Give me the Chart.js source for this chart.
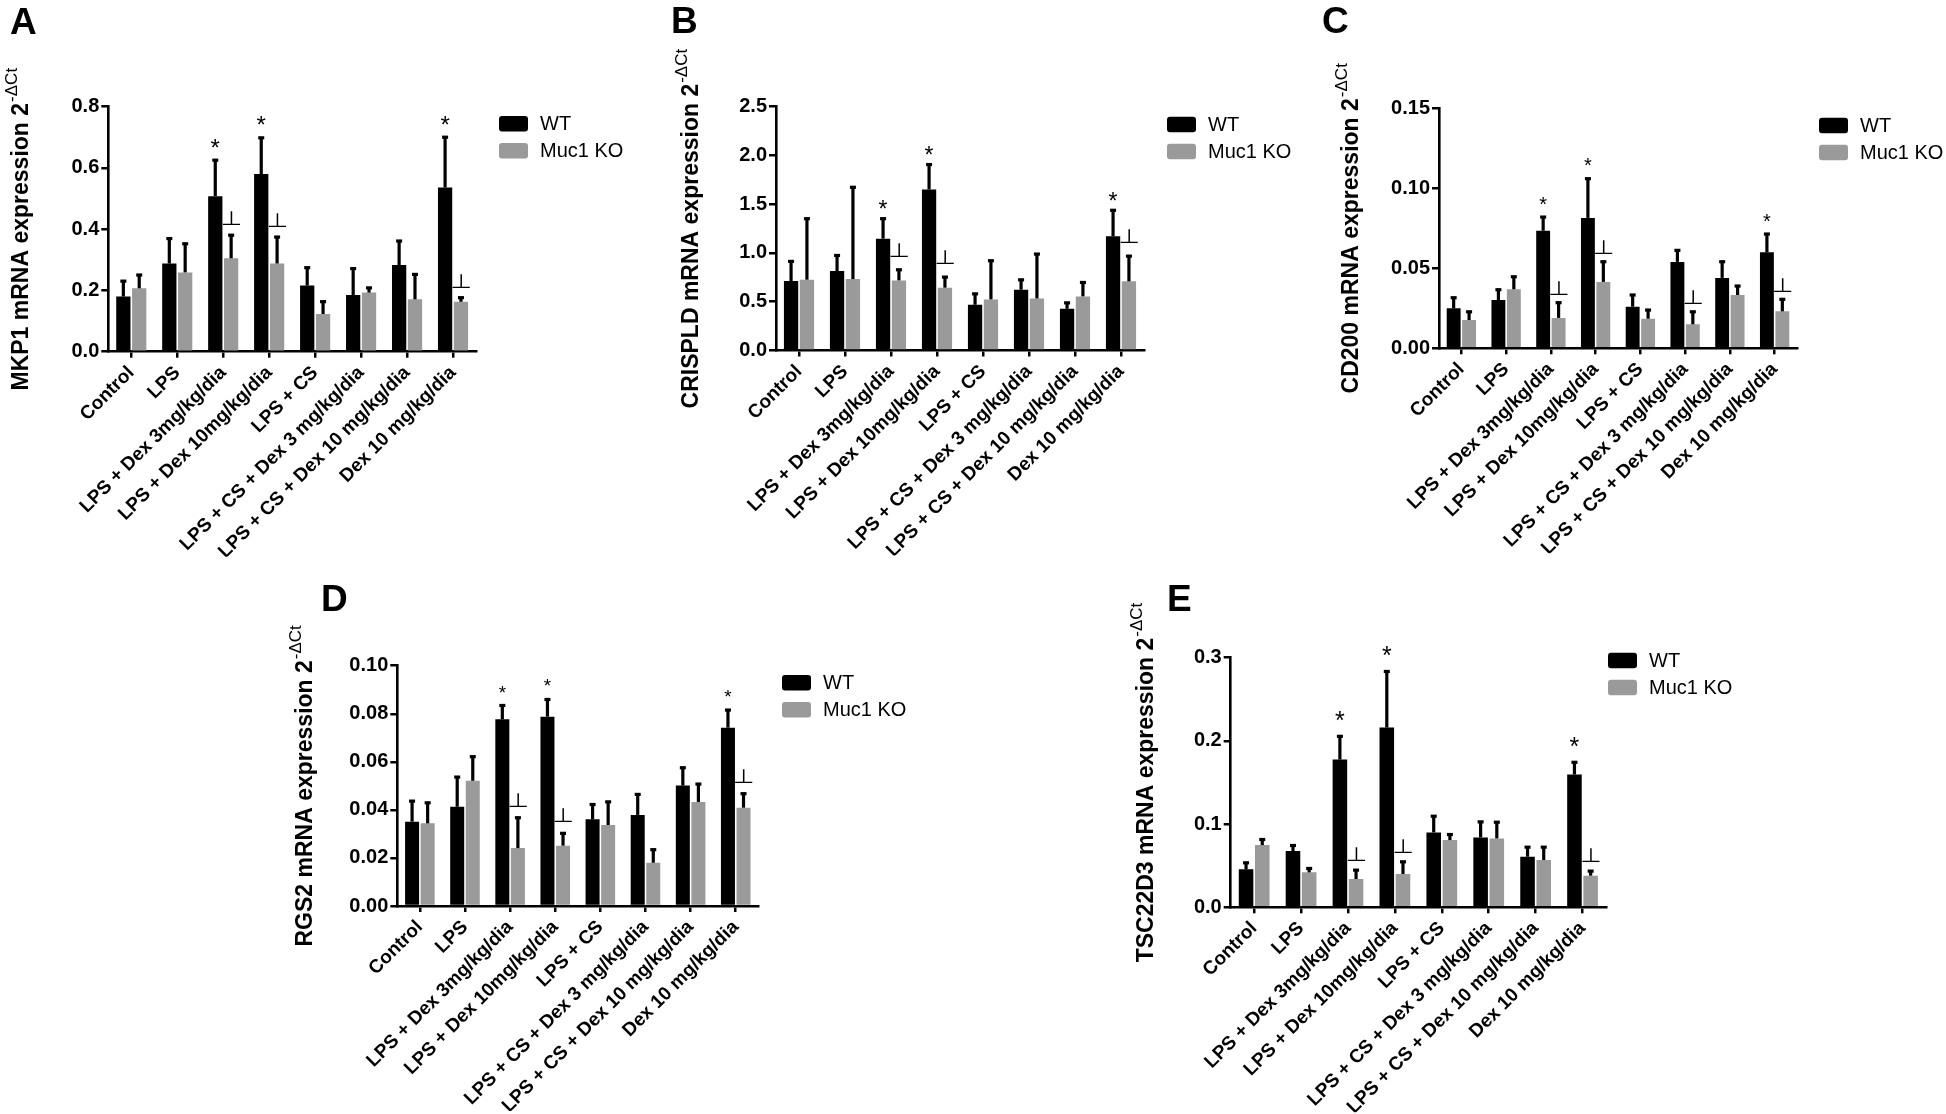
<!DOCTYPE html>
<html>
<head>
<meta charset="utf-8">
<script src="https://cdn.jsdelivr.net/npm/chart.js@4.4.1/dist/chart.umd.min.js"></script>
<style>
  html, body { margin: 0; padding: 0; background: #fff; overflow: hidden; }
  #fig { position: relative; width: 1946px; height: 1114px; }
  #fig canvas { position: absolute; left: 0; top: 0; }
</style>
</head>
<body>
<div id="fig">
  <canvas id="panelA" width="1946" height="1114"></canvas>
  <canvas id="panelB" width="1946" height="1114"></canvas>
  <canvas id="panelC" width="1946" height="1114"></canvas>
  <canvas id="panelD" width="1946" height="1114"></canvas>
  <canvas id="panelE" width="1946" height="1114"></canvas>
</div>
<script>
const categories = [
  "Control",
  "LPS",
  "LPS + Dex 3mg/kg/dia",
  "LPS + Dex 10mg/kg/dia",
  "LPS + CS",
  "LPS + CS + Dex 3 mg/kg/dia",
  "LPS + CS + Dex 10 mg/kg/dia",
  "Dex 10 mg/kg/dia",
];
const seriesNames = ["WT", "Muc1 KO"];

// A - MKP1
const mkp1WT = [0.180, 0.288, 0.508, 0.580, 0.216, 0.185, 0.283, 0.536];
const mkp1WTErr = [0.054, 0.085, 0.121, 0.122, 0.062, 0.090, 0.082, 0.168];
const mkp1KO = [0.207, 0.259, 0.305, 0.288, 0.123, 0.193, 0.171, 0.163];
const mkp1KOErr = [0.047, 0.097, 0.079, 0.090, 0.044, 0.019, 0.085, 0.017];
const mkp1Ticks = [0, 0.2, 0.4, 0.6, 0.8];

// B - CRISPLD
const crispldWT = [0.712, 0.815, 1.147, 1.651, 0.469, 0.623, 0.428, 1.171];
const crispldWTErr = [0.213, 0.171, 0.216, 0.267, 0.123, 0.113, 0.072, 0.278];
const crispldKO = [0.726, 0.733, 0.719, 0.644, 0.524, 0.534, 0.555, 0.709];
const crispldKOErr = [0.637, 0.952, 0.120, 0.120, 0.408, 0.466, 0.154, 0.270];
const crispldTicks = [0, 0.5, 1.0, 1.5, 2.0, 2.5];

// C - CD200
const cd200WT = [0.0250, 0.0302, 0.0735, 0.0815, 0.0260, 0.0540, 0.0440, 0.0600];
const cd200WTErr = [0.0073, 0.0071, 0.0092, 0.0252, 0.0080, 0.0079, 0.0108, 0.0121];
const cd200KO = [0.0177, 0.0369, 0.0190, 0.0415, 0.0185, 0.0150, 0.0333, 0.0231];
const cd200KOErr = [0.0058, 0.0085, 0.0102, 0.0133, 0.0061, 0.0085, 0.0063, 0.0082];
const cd200Ticks = [0, 0.05, 0.10, 0.15];

// D - RGS2
const rgs2WT = [0.0351, 0.0413, 0.0777, 0.0788, 0.0361, 0.0379, 0.0501, 0.0742];
const rgs2WTErr = [0.0090, 0.0128, 0.0062, 0.0076, 0.0066, 0.0090, 0.0079, 0.0078];
const rgs2KO = [0.0344, 0.0521, 0.0241, 0.0251, 0.0337, 0.0180, 0.0433, 0.0409];
const rgs2KOErr = [0.0090, 0.0105, 0.0131, 0.0056, 0.0101, 0.0059, 0.0079, 0.0063];
const rgs2Ticks = [0, 0.02, 0.04, 0.06, 0.08, 0.10];

// E - TSC22D3
const tsc22d3WT = [0.0456, 0.0676, 0.1776, 0.2160, 0.0900, 0.0840, 0.0608, 0.1596];
const tsc22d3WTErr = [0.0092, 0.0080, 0.0292, 0.0688, 0.0208, 0.0200, 0.0128, 0.0160];
const tsc22d3KO = [0.0748, 0.0420, 0.0340, 0.0400, 0.0808, 0.0828, 0.0568, 0.0380];
const tsc22d3KOErr = [0.0080, 0.0060, 0.0120, 0.0160, 0.0080, 0.0208, 0.0168, 0.0068];
const tsc22d3Ticks = [0, 0.1, 0.2, 0.3];

// significance marks (category indices)
const starsWT = [2, 3, 7];
const perpKO = [2, 3, 7];
const perpKOcd200 = [2, 3, 5, 7];

const FONT = '"Liberation Sans", Arial, sans-serif';
const SUP = "-\u0394Ct";
const Y_AXIS_W = 60;
const X_AXIS_H = 205;

const panels = [
  { id: "panelA", letter: "A", letterX: 10, letterY: 34, title: "MKP1 mRNA expression 2", titleX: 28,
    wt: mkp1WT, wtErr: mkp1WTErr, ko: mkp1KO, koErr: mkp1KOErr, ticks: mkp1Ticks, dec: 1, perp: perpKO,
    left: 108.3, right: 476, top: 106.7, bottom: 351.7, legendX: 499, legendY: 116,
    starGap: 17.5, starSize: 24, perpGap: 9 },
  { id: "panelB", letter: "B", letterX: 671, letterY: 33, title: "CRISPLD mRNA expression 2", titleX: 698,
    wt: crispldWT, wtErr: crispldWTErr, ko: crispldKO, koErr: crispldKOErr, ticks: crispldTicks, dec: 1, perp: perpKO,
    left: 776, right: 1144, top: 106.7, bottom: 350.5, legendX: 1167, legendY: 116.7,
    starGap: 14, starSize: 23, perpGap: 12 },
  { id: "panelC", letter: "C", letterX: 1322, letterY: 33, title: "CD200 mRNA expression 2", titleX: 1358,
    wt: cd200WT, wtErr: cd200WTErr, ko: cd200KO, koErr: cd200KOErr, ticks: cd200Ticks, dec: 2, perp: perpKOcd200,
    left: 1439, right: 1797, top: 108.3, bottom: 348.3, legendX: 1819, legendY: 117.7,
    starGap: 17, starSize: 20, perpGap: 6.5 },
  { id: "panelD", letter: "D", letterX: 321, letterY: 611, title: "RGS2 mRNA expression 2", titleX: 312,
    wt: rgs2WT, wtErr: rgs2WTErr, ko: rgs2KO, koErr: rgs2KOErr, ticks: rgs2Ticks, dec: 2, perp: perpKO,
    left: 397.3, right: 758.3, top: 665.7, bottom: 906, legendX: 782, legendY: 675,
    starGap: 17, starSize: 19, perpGap: 10 },
  { id: "panelE", letter: "E", letterX: 1167, letterY: 611, title: "TSC22D3 mRNA expression 2", titleX: 1153,
    wt: tsc22d3WT, wtErr: tsc22d3WTErr, ko: tsc22d3KO, koErr: tsc22d3KOErr, ticks: tsc22d3Ticks, dec: 1, perp: perpKO,
    left: 1230.7, right: 1606, top: 657.7, bottom: 907.3, legendX: 1608, legendY: 652.7,
    starGap: 20.5, starSize: 25, perpGap: 8 },
];

// error bars, significance marks, legend, y title and panel letter
const figureMarks = {
  id: "figureMarks",
  afterDatasetsDraw(chart, args, opts) {
    const ctx = chart.ctx;
    const y = chart.scales.y;
    const caps = [];
    chart.data.datasets.forEach((ds, di) => {
      const meta = chart.getDatasetMeta(di);
      caps[di] = [];
      meta.data.forEach((bar, i) => {
        const top = y.getPixelForValue(ds.data[i] + ds.errors[i]);
        caps[di][i] = top;
        ctx.save();
        ctx.strokeStyle = "#000";
        ctx.lineWidth = 3.2;
        ctx.beginPath();
        ctx.moveTo(bar.x, bar.y);
        ctx.lineTo(bar.x, top + 1);
        ctx.stroke();
        ctx.fillStyle = "#000";
        ctx.fillRect(bar.x - 3, top - 0.5, 6, 3.2);
        ctx.restore();
      });
    });

    const wtMeta = chart.getDatasetMeta(0);
    const koMeta = chart.getDatasetMeta(1);
    ctx.save();
    ctx.fillStyle = "#000";
    ctx.textAlign = "center";
    ctx.textBaseline = "alphabetic";
    ctx.font = opts.starSize + "px " + FONT;
    opts.stars.forEach(i => {
      const cy = caps[0][i] - opts.starGap;
      ctx.fillText("*", wtMeta.data[i].x, cy + 0.585 * opts.starSize);
    });

    // the "⊥" mark, flattened a little
    ctx.font = '24.5px "DejaVu Sans", sans-serif';
    opts.perp.forEach(i => {
      ctx.save();
      ctx.translate(koMeta.data[i].x, caps[1][i] - opts.perpGap);
      ctx.scale(1, 0.8);
      ctx.fillText("\u22A5", 0, 0);
      ctx.restore();
    });
    ctx.restore();
  },
  afterDraw(chart, args, opts) {
    const ctx = chart.ctx;
    const area = chart.chartArea;
    ctx.save();
    ctx.fillStyle = "#000";

    // legend
    chart.data.datasets.forEach((ds, i) => {
      const bx = opts.legendX;
      const by = opts.legendY + i * 27;
      ctx.fillStyle = ds.backgroundColor;
      ctx.beginPath();
      ctx.roundRect(bx, by, 29, 15.5, 3);
      ctx.fill();
      ctx.fillStyle = "#000";
      ctx.font = "20px " + FONT;
      ctx.textAlign = "left";
      ctx.textBaseline = "middle";
      ctx.fillText(ds.label, bx + 41, by + 8.5);
    });

    // panel letter
    ctx.font = "bold 37px " + FONT;
    ctx.textAlign = "left";
    ctx.textBaseline = "alphabetic";
    ctx.fillText(opts.letter, opts.letterX, opts.letterY);

    // rotated y title with superscript
    ctx.translate(opts.titleX, (area.top + area.bottom) / 2);
    ctx.rotate(-Math.PI / 2);
    ctx.font = "bold 23px " + FONT;
    const mainW = ctx.measureText(opts.title).width;
    ctx.font = "17px " + FONT;
    const supW = ctx.measureText(SUP).width;
    const start = -(mainW + supW + 1) / 2;
    ctx.font = "bold 23px " + FONT;
    ctx.fillText(opts.title, start, 0);
    ctx.font = "17px " + FONT;
    ctx.fillText(SUP, start + mainW + 1, -11);
    ctx.restore();
  },
};

panels.forEach(p => {
  new Chart(document.getElementById(p.id), {
    type: "bar",
    data: {
      labels: categories,
      datasets: [
        { label: seriesNames[0], data: p.wt, errors: p.wtErr, backgroundColor: "#000000",
          barPercentage: 0.9, categoryPercentage: 0.69, borderWidth: 0 },
        { label: seriesNames[1], data: p.ko, errors: p.koErr, backgroundColor: "#9a9a9a",
          barPercentage: 0.9, categoryPercentage: 0.69, borderWidth: 0 },
      ],
    },
    options: {
      responsive: false,
      animation: false,
      devicePixelRatio: 1,
      events: [],
      layout: {
        padding: {
          left: p.left - Y_AXIS_W,
          right: 1946 - p.right,
          top: p.top,
          bottom: Math.max(0, 1114 - p.bottom - X_AXIS_H),
        },
      },
      plugins: {
        legend: { display: false },
        tooltip: { enabled: false },
        figureMarks: {
          letter: p.letter, letterX: p.letterX, letterY: p.letterY,
          title: p.title, titleX: p.titleX,
          legendX: p.legendX, legendY: p.legendY,
          stars: starsWT, perp: p.perp,
          starGap: p.starGap, starSize: p.starSize, perpGap: p.perpGap,
        },
      },
      scales: {
        x: {
          offset: true,
          grid: { drawOnChartArea: false, offset: false, color: "#000", lineWidth: 2.5, tickLength: 6 },
          border: { display: true, color: "#000", width: 2.6 },
          ticks: {
            autoSkip: false,
            maxRotation: 45,
            minRotation: 45,
            padding: 4,
            color: "#000",
            font: { family: FONT, size: 19, weight: "bold" },
          },
          afterFit: s => { s.height = X_AXIS_H; },
        },
        y: {
          min: 0,
          max: p.ticks[p.ticks.length - 1],
          afterBuildTicks: s => { s.ticks = p.ticks.map(v => ({ value: v })); },
          grid: { drawOnChartArea: false, color: "#000", lineWidth: 2.5, tickLength: 7 },
          border: { display: true, color: "#000", width: 2.6 },
          ticks: {
            padding: 2,
            color: "#000",
            font: { family: FONT, size: 20, weight: "bold" },
            callback: v => Number(v).toFixed(p.dec),
          },
          afterFit: s => { s.width = Y_AXIS_W; },
        },
      },
    },
    plugins: [figureMarks],
  });
});
</script>
</body>
</html>
